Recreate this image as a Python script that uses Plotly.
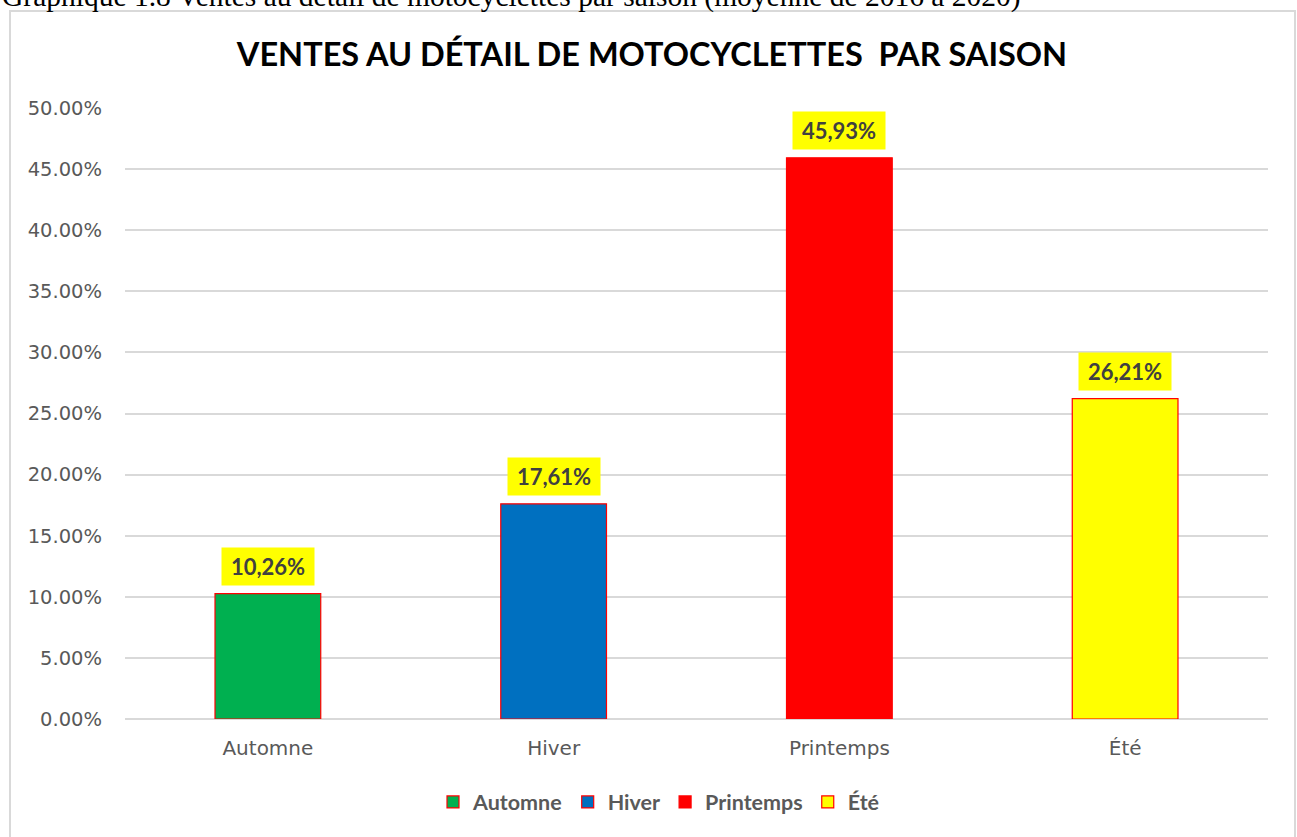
import plotly.graph_objects as go

categories = ["Automne", "Hiver", "Printemps", "Été"]
values = [10.26, 17.61, 45.93, 26.21]
colors = ["#00B050", "#0070C0", "#FF0000", "#FFFF00"]
label_texts = ["10,26%", "17,61%", "45,93%", "26,21%"]
y_ticks = [0, 5, 10, 15, 20, 25, 30, 35, 40, 45, 50]
y_tick_text = ["0.00%", "5.00%", "10.00%", "15.00%", "20.00%", "25.00%",
               "30.00%", "35.00%", "40.00%", "45.00%", "50.00%"]

W, H = 1297, 837
ML, MR, MT, MB = 125, 29, 108, 118
PW, PH = W - ML - MR, H - MT - MB

def px_x(px):
    return (px - ML) / PW

def px_y(py):
    return (H - MB - py) / PH

fig = go.Figure()
for cat, val, col in zip(categories, values, colors):
    fig.add_trace(go.Bar(
        x=[cat], y=[val], name="<b>" + cat + "</b>", width=0.37,
        marker=dict(color=col, line=dict(color="#FF0000", width=1.2)),
        hoverinfo="skip",
    ))

annotations = []
for cat, val, txt in zip(categories, values, label_texts):
    annotations.append(dict(
        x=cat, y=val, xref="x", yref="y", text="<b>" + txt + "</b>",
        showarrow=False, yanchor="bottom", yshift=8,
        bgcolor="#FFFF00", width=86, height=31, borderpad=3,
        font=dict(family="Lato", size=22, color="#404040"),
    ))

annotations.append(dict(
    x=px_x(0), y=px_y(15), xref="paper", yref="paper", xanchor="left", yanchor="bottom",
    text="Graphique 1.8 Ventes au détail de motocyclettes par saison (moyenne de 2016 à 2020)",
    showarrow=False, font=dict(family="Liberation Serif", size=29.5, color="#000000"),
))

shapes = [dict(
    type="rect", xref="paper", yref="paper",
    x0=px_x(10), x1=px_x(1295), y0=px_y(850), y1=px_y(11),
    line=dict(color="#D9D9D9", width=2), fillcolor="rgba(0,0,0,0)", layer="below",
)]

fig.update_layout(
    width=W, height=H,
    margin=dict(l=ML, r=MR, t=MT, b=MB),
    paper_bgcolor="white", plot_bgcolor="white",
    barmode="overlay",
    title=dict(
        text="<b>VENTES AU DÉTAIL DE MOTOCYCLETTES  PAR SAISON</b>",
        x=652 / W, xanchor="center",
        y=1 - 55 / H, yanchor="middle",
        font=dict(family="Lato", size=32.5, color="#000000"),
    ),
    xaxis=dict(
        showgrid=False, showline=False, ticks="",
        tickfont=dict(family="DejaVu Sans", size=20, color="#595959"),
        range=[-0.5, 3.5], ticklabelstandoff=15,
    ),
    yaxis=dict(
        range=[0, 50], tickvals=y_ticks, ticktext=y_tick_text,
        showgrid=True, gridcolor="#D9D9D9", gridwidth=1.5,
        zeroline=True, zerolinecolor="#D9D9D9", zerolinewidth=1.5,
        showline=False, ticks="",
        tickfont=dict(family="DejaVu Sans", size=19.5, color="#595959"),
        ticklabelstandoff=22,
    ),
    legend=dict(
        orientation="h", x=(659 - ML) / PW, xanchor="center",
        y=px_y(802), yanchor="middle",
        font=dict(family="Lato", size=21.5, color="#595959"),
        itemwidth=30, traceorder="normal",
    ),
    annotations=annotations,
    shapes=shapes,
    showlegend=True,
)

fig.write_html("out.html", config={"displayModeBar": False})

with open("out.html", "r", encoding="utf-8") as f:
    html = f.read()
html = html.replace("<head>", "<head><style>html,body{margin:0;padding:0;overflow:hidden;}</style>", 1)
with open("out.html", "w", encoding="utf-8") as f:
    f.write(html)
